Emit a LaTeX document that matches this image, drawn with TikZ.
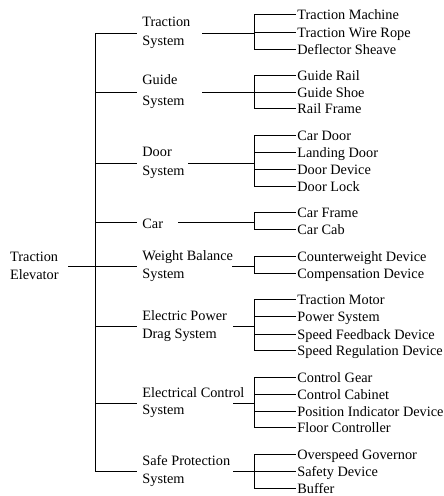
\documentclass[tikz,border=0pt]{standalone}
\usepackage{fontspec}
\setmainfont{Liberation Serif}
\begin{document}
\begin{tikzpicture}[x=1pt,y=-1pt, line width=0.8pt,
  every node/.style={font=\fontsize{14.3}{18.5}\selectfont},
  lbl/.style={anchor=west, inner xsep=5pt, inner ysep=0pt, align=left, execute at begin node={\rule{0pt}{12.7pt}}},
  leaf/.style={anchor=west, inner xsep=1pt, inner ysep=0pt, text height=10.6pt, text depth=0pt}]
\useasboundingbox (0,0) rectangle (444,496);

% root
\node[anchor=east, inner xsep=9pt, inner ysep=0pt, align=left, execute at begin node={\rule{0pt}{12pt}}] (root) at (68,266) {Traction\\Elevator};
\coordinate (tj) at (95,266);

% second level
\node[lbl] (ts)  at (137,33)  {Traction\\System};
\node[lbl] (gs)  at (137,92)  {Guide\\[2.5pt]System};
\node[lbl] (ds)  at (137,163) {Door\\System};
\node[lbl] (car) at (137,222) {Car};
\node[lbl] (wb)  at (137,266) {Weight Balance\\System};
\node[lbl] (ep)  at (137,326) {Electric Power\\Drag System};
\node[lbl] (ec)  at (137,403) {Electrical Control\\[-1.5pt]System};
\node[lbl] (sp)  at (137,471) {Safe Protection\\System};

\draw (root.east) -- (tj);
\foreach \n in {ts,gs,ds,car,wb,ep,ec,sp} \draw (tj) |- (\n.west);

% leaves
\node[leaf] (l1)  at (296,14)  {Traction Machine};
\node[leaf] (l2)  at (296,32)  {Traction Wire Rope};
\node[leaf] (l3)  at (296,49)  {Deflector Sheave};
\node[leaf] (l4)  at (296,75)  {Guide Rail};
\node[leaf] (l5)  at (296,92)  {Guide Shoe};
\node[leaf] (l6)  at (296,108) {Rail Frame};
\node[leaf] (l7)  at (296,135) {Car Door};
\node[leaf] (l8)  at (296,152) {Landing Door};
\node[leaf] (l9)  at (296,169) {Door Device};
\node[leaf] (l10) at (296,186) {Door Lock};
\node[leaf] (l11) at (296,212) {Car Frame};
\node[leaf] (l12) at (296,229) {Car Cab};
\node[leaf] (l13) at (296,256) {Counterweight Device};
\node[leaf] (l14) at (296,273) {Compensation Device};
\node[leaf] (l15) at (296,299) {Traction Motor};
\node[leaf] (l16) at (296,316) {Power System};
\node[leaf] (l17) at (296,334) {Speed Feedback Device};
\node[leaf] (l18) at (296,350) {Speed Regulation Device};
\node[leaf] (l19) at (296,377) {Control Gear};
\node[leaf] (l20) at (296,394) {Control Cabinet};
\node[leaf] (l21) at (296,411) {Position Indicator Device};
\node[leaf] (l22) at (296,427) {Floor Controller};
\node[leaf] (l23) at (296,454) {Overspeed Governor};
\node[leaf] (l24) at (296,471) {Safety Device};
\node[leaf] (l25) at (296,488) {Buffer};

% connectors from labels to brackets
\coordinate (ts-s) at (202,33);  \coordinate (ts-j) at (254,33);
\coordinate (gs-s) at (202,92);  \coordinate (gs-j) at (254,92);
\coordinate (ds-s) at (188,163); \coordinate (ds-j) at (254,163);
\coordinate (car-s) at (178,222); \coordinate (car-j) at (254,222);
\coordinate (wb-s) at (232,266); \coordinate (wb-j) at (254,266);
\coordinate (ep-s) at (233,326); \coordinate (ep-j) at (254,326);
\coordinate (ec-s) at (233,403); \coordinate (ec-j) at (254,403);
\coordinate (sp-s) at (233,471); \coordinate (sp-j) at (254,471);

\foreach \g in {ts,gs,ds,car,wb,ep,ec,sp} \draw (\g-s) -- (\g-j);

\foreach \l in {l1,l2,l3} \draw (ts-j) |- (\l.west);
\foreach \l in {l4,l5,l6} \draw (gs-j) |- (\l.west);
\foreach \l in {l7,l8,l9,l10} \draw (ds-j) |- (\l.west);
\foreach \l in {l11,l12} \draw (car-j) |- (\l.west);
\foreach \l in {l13,l14} \draw (wb-j) |- (\l.west);
\foreach \l in {l15,l16,l17,l18} \draw (ep-j) |- (\l.west);
\foreach \l in {l19,l20,l21,l22} \draw (ec-j) |- (\l.west);
\foreach \l in {l23,l24,l25} \draw (sp-j) |- (\l.west);
\end{tikzpicture}
\end{document}
